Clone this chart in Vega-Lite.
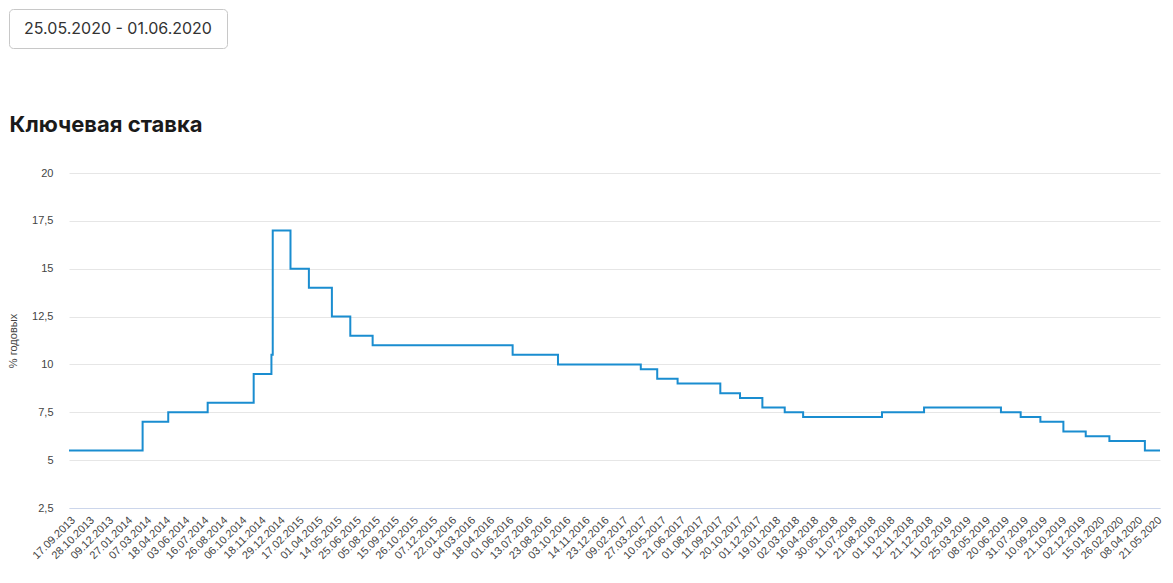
{
  "$schema": "https://vega.github.io/schema/vega-lite/v6.json",
  "padding": {"left": 7, "top": 8, "right": 5, "bottom": 5},
  "background": "white",
  "spacing": 65,
  "config": {"view": {"stroke": null}},
  "vconcat": [
    {
      "width": 218,
      "height": 39,
      "view": {"stroke": "#c8c8c8", "cornerRadius": 4, "strokeWidth": 1},
      "data": {"values": [{"label": "25.05.2020 - 01.06.2020"}]},
      "mark": {"type": "text", "font": "Inter", "fontSize": 16, "color": "#333333"},
      "encoding": {"text": {"field": "label"}}
    },
    {
      "width": 1151,
      "height": 335,
      "title": {"text": "Ключевая ставка", "anchor": "start", "frame": "bounds", "dx": 2, "font": "Inter", "fontSize": 22, "fontWeight": "bold", "color": "#1a1a1a", "offset": 30},
      "data": {"values": [
        {"i": 0, "date": "17.09.2013", "rate": 5.5},
        {"i": 112, "date": "03.03.2014", "rate": 7.0},
        {"i": 151, "date": "28.04.2014", "rate": 7.5},
        {"i": 211, "date": "28.07.2014", "rate": 8.0},
        {"i": 281, "date": "05.11.2014", "rate": 9.5},
        {"i": 308, "date": "12.12.2014", "rate": 10.5},
        {"i": 310, "date": "16.12.2014", "rate": 17.0},
        {"i": 337, "date": "02.02.2015", "rate": 15.0},
        {"i": 365, "date": "16.03.2015", "rate": 14.0},
        {"i": 400, "date": "05.05.2015", "rate": 12.5},
        {"i": 428, "date": "16.06.2015", "rate": 11.5},
        {"i": 462, "date": "03.08.2015", "rate": 11.0},
        {"i": 675, "date": "14.06.2016", "rate": 10.5},
        {"i": 744, "date": "19.09.2016", "rate": 10.0},
        {"i": 870, "date": "27.03.2017", "rate": 9.75},
        {"i": 895, "date": "02.05.2017", "rate": 9.25},
        {"i": 926, "date": "19.06.2017", "rate": 9.0},
        {"i": 991, "date": "18.09.2017", "rate": 8.5},
        {"i": 1021, "date": "30.10.2017", "rate": 8.25},
        {"i": 1055, "date": "18.12.2017", "rate": 7.75},
        {"i": 1089, "date": "12.02.2018", "rate": 7.5},
        {"i": 1117, "date": "26.03.2018", "rate": 7.25},
        {"i": 1237, "date": "17.09.2018", "rate": 7.5},
        {"i": 1301, "date": "17.12.2018", "rate": 7.75},
        {"i": 1418, "date": "17.06.2019", "rate": 7.5},
        {"i": 1448, "date": "29.07.2019", "rate": 7.25},
        {"i": 1478, "date": "09.09.2019", "rate": 7.0},
        {"i": 1513, "date": "28.10.2019", "rate": 6.5},
        {"i": 1547, "date": "16.12.2019", "rate": 6.25},
        {"i": 1583, "date": "10.02.2020", "rate": 6.0},
        {"i": 1637, "date": "27.04.2020", "rate": 5.5},
        {"i": 1660, "date": "01.06.2020", "rate": 5.5}
      ]},
      "mark": {"type": "line", "interpolate": "step-after", "color": "#1a8dd0", "strokeWidth": 2},
      "encoding": {
        "x": {
          "field": "i",
          "type": "quantitative",
          "scale": {"domain": [0, 1660], "range": [60, 1151], "nice": false, "zero": false},
          "axis": {
            "title": null,
            "grid": false,
            "ticks": false,
            "domainColor": "#ccd6eb",
            "values": [0, 29, 58, 87, 116, 145, 174, 203, 232, 261, 290, 319, 348, 377, 406, 435, 464, 493, 522, 551, 580, 609, 638, 667, 696, 725, 754, 783, 812, 841, 870, 899, 928, 957, 986, 1015, 1044, 1073, 1102, 1131, 1160, 1189, 1218, 1247, 1276, 1305, 1334, 1363, 1392, 1421, 1450, 1479, 1508, 1537, 1566, 1595, 1624, 1653],
            "labelExpr": "['17.09.2013','28.10.2013','09.12.2013','27.01.2014','07.03.2014','18.04.2014','03.06.2014','16.07.2014','26.08.2014','06.10.2014','18.11.2014','29.12.2014','17.02.2015','01.04.2015','14.05.2015','25.06.2015','05.08.2015','15.09.2015','26.10.2015','07.12.2015','22.01.2016','04.03.2016','18.04.2016','01.06.2016','13.07.2016','23.08.2016','03.10.2016','14.11.2016','23.12.2016','09.02.2017','27.03.2017','10.05.2017','21.06.2017','01.08.2017','11.09.2017','20.10.2017','01.12.2017','19.01.2018','02.03.2018','16.04.2018','30.05.2018','11.07.2018','21.08.2018','01.10.2018','12.11.2018','21.12.2018','11.02.2019','25.03.2019','08.05.2019','20.06.2019','31.07.2019','10.09.2019','21.10.2019','02.12.2019','15.01.2020','26.02.2020','08.04.2020','21.05.2020'][round(datum.value / 29)]",
            "labelAngle": -45,
            "labelFont": "Liberation Sans",
            "labelFontSize": 11,
            "labelColor": "#444444",
            "labelPadding": 6,
            "labelOverlap": false,
            "labelFlush": false,
            "labelBound": false
          }
        },
        "y": {
          "field": "rate",
          "type": "quantitative",
          "scale": {"domain": [2.5, 20], "nice": false, "zero": false},
          "axis": {
            "offset": -60,
            "title": "% годовых",
            "titleFont": "Liberation Sans",
            "titleFontSize": 11,
            "titleFontWeight": "normal",
            "titleColor": "#444444",
            "titlePadding": 13,
            "values": [2.5, 5, 7.5, 10, 12.5, 15, 17.5, 20],
            "labelExpr": "replace(toString(datum.value), '.', ',')",
            "labelFont": "Liberation Sans",
            "labelFontSize": 11,
            "labelColor": "#444444",
            "labelPadding": 16,
            "ticks": false,
            "domain": false,
            "gridColor": "#e6e6e6",
            "labelFlush": false
          }
        }
      }
    }
  ]
}
